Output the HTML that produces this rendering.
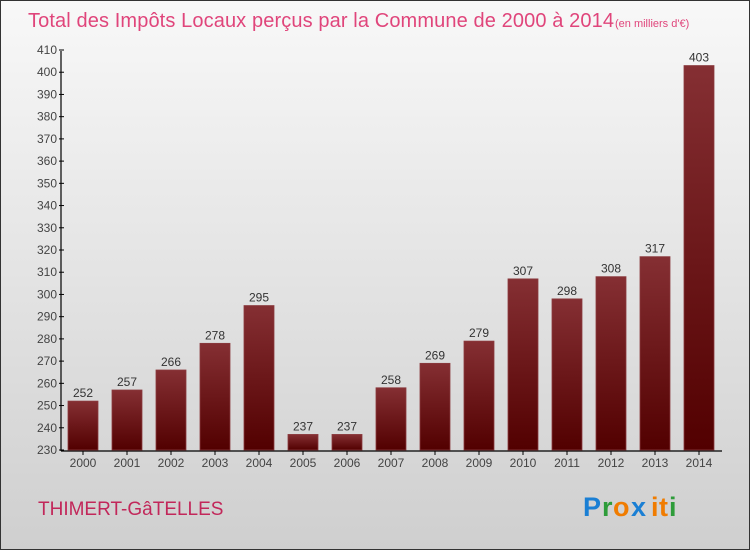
<!DOCTYPE html>
<html><head><meta charset="utf-8"><style>
body{margin:0}
#c{width:748px;height:548px;border:1px solid #333;background:linear-gradient(#f8f8f8,#cfcfcf);position:relative;font-family:"Liberation Sans",sans-serif}
svg{position:absolute;left:0;top:0}
</style></head><body>
<div id="c">
<svg width="748" height="548" id="s">
<defs><linearGradient id="g" x1="0" y1="0" x2="0" y2="1"><stop offset="0" stop-color="#852f33"/><stop offset="1" stop-color="#520000"/></linearGradient></defs>
<text x="27" y="26" font-size="20" fill="#e0457b" textLength="586">Total des Impôts Locaux perçus par la Commune de 2000 à 2014</text>
<text x="614" y="26" font-size="11" fill="#e0457b">(en milliers d'€)</text>
<text x="37" y="514" font-size="19" fill="#c2275a">THIMERT-GâTELLES</text>
<g font-size="27" font-weight="bold"><text x="582" y="515" fill="#1a7fd4">P</text><text x="601" y="515" fill="#2e9c3a">r</text><text x="612" y="515" fill="#f07c00">o</text><text x="630" y="515" fill="#1a7fd4">x</text><text x="650" y="515" fill="#f07c00">i</text><text x="658" y="515" fill="#f07c00">t</text><text x="668" y="515" fill="#2e9c3a">i</text></g>
</svg></div>
<script>
const categories=["2000","2001","2002","2003","2004","2005","2006","2007","2008","2009","2010","2011","2012","2013","2014"];
const values=[252,257,266,278,295,237,237,258,269,279,307,298,308,317,403];
const ticks=[230,240,250,260,270,280,290,300,310,320,330,340,350,360,370,380,390,400,410];
const s=document.getElementById('s');const NS='http://www.w3.org/2000/svg';
function y(v){return 449-(v-230)*(400/180);}
function x(i){return 67+i*44;}
function mk(t,a,txt){const e=document.createElementNS(NS,t);for(const k in a)e.setAttribute(k,a[k]);if(txt!=null)e.textContent=txt;s.appendChild(e);return e;}
let ax=mk('line',{x1:60,y1:50,x2:60,y2:450,stroke:'#000','stroke-width':1.2});


let bx=mk('line',{x1:60,y1:450,x2:721,y2:450,stroke:'#000','stroke-width':1.2});


ticks.forEach(t=>{
 let l=mk('line',{x1:58,x2:63,y1:y(t),y2:y(t),stroke:'#000'});
 
 
 let tx=mk('text',{x:56,y:y(t)+4,'text-anchor':'end','font-size':12,fill:'#444'},t);
 
 
});
categories.forEach((c,i)=>{
 let r=mk('rect',{x:x(i),y:y(values[i]),width:30,height:449-y(values[i]),fill:'url(#g)',stroke:'#8a3a3e','stroke-width':0.8});
 
 
 let v=mk('text',{x:x(i)+15,y:y(values[i])-4,'text-anchor':'middle','font-size':12,fill:'#333'},values[i]);
 
 
 let tk=mk('line',{x1:x(i)+15,x2:x(i)+15,y1:450,y2:454,stroke:'#000'});
 
 
 let xl=mk('text',{x:x(i)+15,y:466,'text-anchor':'middle','font-size':12,fill:'#444'},c);
 
 
});
</script></body></html>
